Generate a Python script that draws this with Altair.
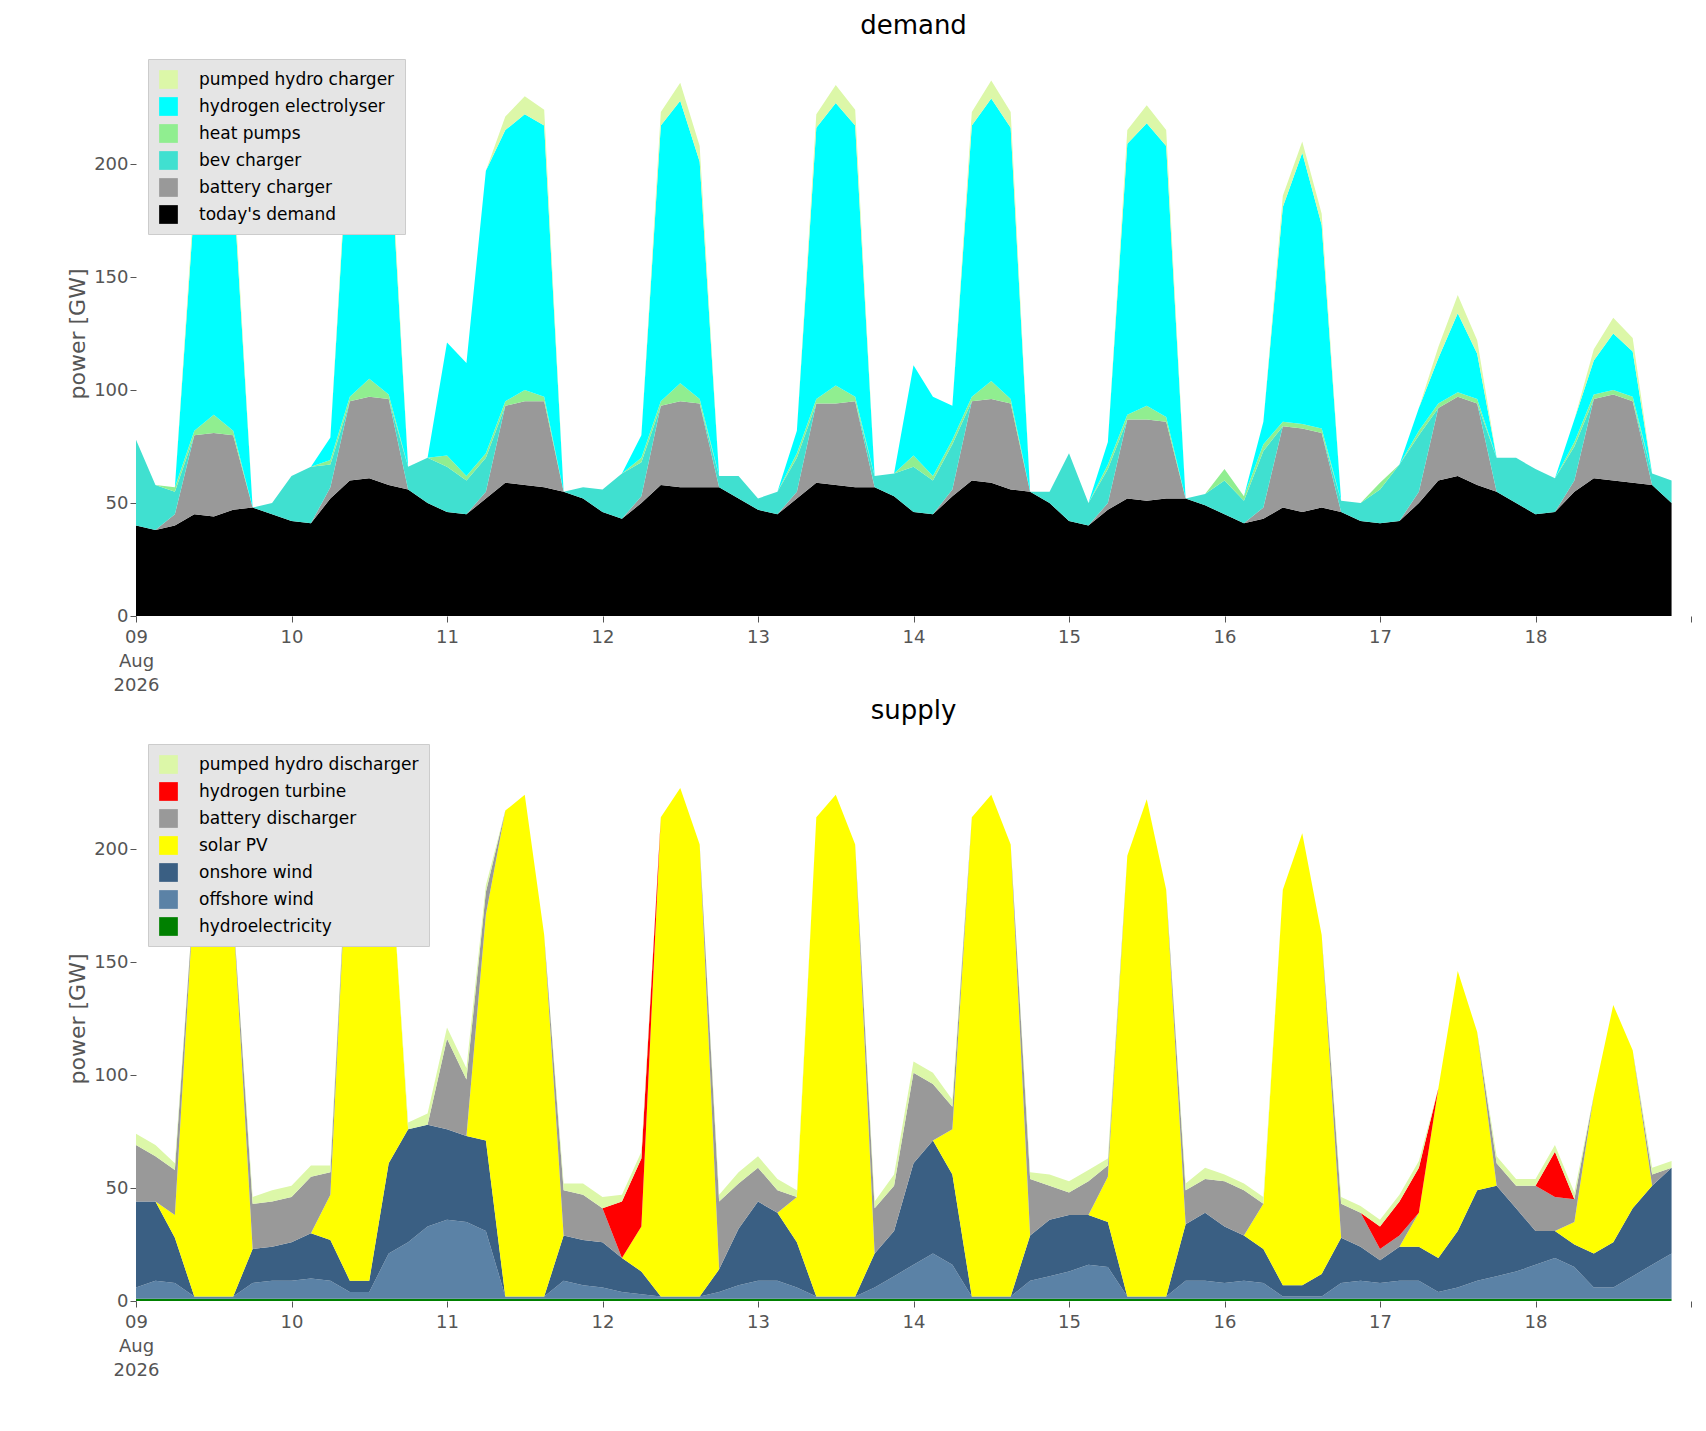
import altair as alt
import pandas as pd

# 3-hourly values, 9 Aug 2026 00:00 .. 18 Aug 21:00 (8 per day)
demand_today = [40,38,40,45,44,47,48,45, 42,41,52,60,61,58,56,50, 46,45,52,59,58,57,55,52,
                46,43,50,58,57,57,57,52, 47,45,52,59,58,57,57,53, 46,45,53,60,59,56,55,50,
                42,40,47,52,51,52,52,49, 45,41,43,48,46,48,46,42, 41,42,50,60,62,58,55,50,
                45,46,55,61,60,59,58,50]
battery_ch = [0,0,5,35,37,33,0,0, 0,0,5,35,36,38,0,0, 0,0,3,34,37,38,0,0, 0,0,3,35,38,37,0,0,
              0,0,3,35,36,38,0,0, 0,0,3,35,37,38,0,0, 0,0,3,35,36,34,0,0, 0,0,5,36,37,33,0,0,
              0,0,5,32,35,36,0,0, 0,0,5,35,38,36,0,0]
bev_ch = [38,20,10,0,0,0,0,5, 20,25,10,0,0,0,10,20, 20,15,15,0,0,0,0,5, 10,20,15,0,0,0,5,10,
          5,10,15,0,0,0,5,10, 20,15,20,0,0,0,0,5, 30,10,15,0,0,0,0,5, 15,10,25,0,0,0,5,8,
          15,25,25,0,0,0,15,20, 20,15,15,0,0,0,5,10]
heat_pumps = [0,0,2,2,8,2,0,0, 0,0,2,2,8,2,0,0, 5,2,2,2,5,2,0,0, 0,0,2,2,8,2,0,0,
              0,0,2,2,8,2,0,0, 5,2,2,2,8,2,0,0, 0,0,2,2,6,2,0,0, 5,2,3,2,2,2,0,0,
              3,0,2,2,2,2,0,0, 0,0,2,2,2,2,0,0]
electrolyser = [0,0,0,100,125,110,0,0, 0,0,10,125,125,120,0,0, 50,50,125,120,122,120,0,0,
                0,0,10,122,125,105,0,0, 0,0,10,120,125,120,0,0, 40,35,15,120,125,120,0,0,
                0,0,10,120,125,120,0,0, 0,0,10,95,120,90,0,0, 0,0,10,20,35,20,0,0,
                0,0,10,15,25,20,0,0]
pumped_ch = [0,0,0,5,7,6,0,0, 0,0,0,6,8,7,0,0, 0,0,0,6,8,7,0,0, 0,0,0,6,8,7,0,0,
             0,0,0,6,8,7,0,0, 0,0,0,6,8,7,0,0, 0,0,0,6,8,7,0,0, 0,0,0,5,5,5,0,0,
             0,0,0,5,8,6,0,0, 0,0,0,5,7,6,0,0]

hydro = [1]*80
offshore = [5,8,7,1,1,1,7,8, 8,9,8,3,3,20,25,32, 35,34,30,1,1,1,8,6, 5,3,2,1,1,1,3,6,
            8,8,5,1,1,1,5,10, 15,20,15,1,1,1,8,10, 12,15,14,1,1,1,8,8, 7,8,7,1,1,1,7,8,
            7,8,8,3,5,8,10,12, 15,18,14,5,5,10,15,20]
onshore = [38,35,20,0,0,0,15,15, 17,20,18,5,5,40,50,45, 40,38,40,0,0,0,20,20, 20,15,10,0,0,0,10,25,
           35,30,20,0,0,0,15,20, 45,50,40,0,0,0,20,25, 25,22,20,0,0,0,25,30, 25,20,15,5,5,10,20,15,
           10,15,15,15,25,40,40,28, 15,12,10,15,20,30,35,38]
solar = [0,0,10,180,210,170,0,0, 0,0,20,215,220,150,0,0, 0,0,100,215,222,160,0,0,
         0,0,20,212,225,200,0,0, 0,0,20,212,222,200,0,0, 0,0,20,212,222,200,0,0,
         0,0,20,195,220,180,0,0, 0,0,20,175,200,150,0,0, 0,0,15,75,115,70,0,0,
         0,0,10,70,105,70,0,0]
battery_dis = [25,20,20,0,0,0,20,20, 20,25,10,0,0,0,0,0, 40,25,10,0,0,0,20,20, 15,0,0,0,0,0,30,20,
               15,10,0,0,0,0,20,20, 40,25,10,0,0,0,25,15, 10,15,5,0,0,0,15,15, 20,20,0,0,0,0,15,15,
               5,5,0,0,0,0,10,10, 20,15,10,0,0,0,5,0]
h2_turbine = [0]*24 + [0,25,30,0,0,0,0,0] + [0]*32 + [10,15,20,0,0,0,0,0] + [0,20,0,0,0,0,0,0]
pumped_dis = [5,5,3,0,0,0,3,5, 5,5,3,0,0,0,3,5, 5,5,3,0,0,0,3,5, 5,3,3,0,0,0,3,5,
              5,5,3,0,0,0,3,5, 5,5,3,0,0,0,3,5, 5,5,3,0,0,0,3,5, 3,3,3,0,0,0,3,3,
              3,3,3,0,0,0,3,3, 3,3,3,0,0,0,3,3]

times = pd.date_range("2026-08-09", periods=80, freq="3h")
FONT = "DejaVu Sans"

def long(series):
    rows = []
    for i, (name, vals) in enumerate(series):
        for t, v in zip(times, vals):
            rows.append({"time": t, "name": name, "value": v, "ord": i})
    return pd.DataFrame(rows)

dem_series = [("today's demand", demand_today), ("battery charger", battery_ch), ("bev charger", bev_ch),
              ("heat pumps", heat_pumps), ("hydrogen electrolyser", electrolyser), ("pumped hydro charger", pumped_ch)]
dem_colors = ["black", "#999999", "#40e0d0", "#90ee90", "#00ffff", "#dcf7a8"]
sup_series = [("hydroelectricity", hydro), ("offshore wind", offshore), ("onshore wind", onshore),
              ("solar PV", solar), ("battery discharger", battery_dis), ("hydrogen turbine", h2_turbine),
              ("pumped hydro discharger", pumped_dis)]
sup_colors = ["#008000", "#5b82a6", "#3a5f83", "#ffff00", "#999999", "#ff0000", "#dcf7a8"]

xaxis = alt.Axis(title=None, tickCount={"interval": "day", "step": 1}, grid=False,
                 labelExpr="date(datum.value)==9 && month(datum.value)==7 ? ['09','Aug','2026'] : (date(datum.value)==19 ? '' : timeFormat(datum.value,'%d'))",
                 labelFontSize=18, labelColor="#555", domain=False, tickColor="#555", tickSize=6,
                 labelPadding=6, labelFont=FONT, labelLineHeight=24, labelFlush=False, labelAlign="center")

def panel(series, colors, title):
    df = long(series)
    names = [s[0] for s in series]
    return alt.Chart(df, title=alt.Title(title, fontSize=26, fontWeight="normal", font=FONT, offset=12)).mark_area(interpolate="linear").encode(
        x=alt.X("time:T", axis=xaxis, scale=alt.Scale(domain=["2026-08-09T00:00:00", "2026-08-19T00:00:00"])),
        y=alt.Y("value:Q", stack="zero", scale=alt.Scale(domain=[0, 250], nice=False),
                axis=alt.Axis(title="power [GW]", titleFontSize=22, titleFontWeight="normal", titleColor="#555",
                              titleFont=FONT, labelFont=FONT, tickSize=6, tickColor="#555",
                              labelFontSize=18, labelColor="#555", grid=False, domain=False, values=[0,50,100,150,200])),
        color=alt.Color("name:N", scale=alt.Scale(domain=names[::-1], range=colors[::-1]),
                        legend=alt.Legend(title=None, orient="none", legendX=12, legendY=8, fillColor="#e5e5e5",
                                          symbolType="square", symbolSize=350, labelFontSize=17, labelFont=FONT,
                                          padding=10, rowPadding=7, labelLimit=400, symbolOpacity=1,
                                          strokeColor="#cccccc", labelOffset=20)),
        order=alt.Order("ord:Q", sort="ascending"),
    ).properties(width=1555, height=565)

chart = alt.vconcat(panel(dem_series, dem_colors, "demand"),
                    panel(sup_series, sup_colors, "supply"), spacing=4).resolve_scale(color="independent").configure_view(stroke=None).properties(padding={"left": 58, "top": 5, "right": 5, "bottom": 5})
chart.save("out.html", embed_options={"renderer": "svg", "actions": False})
